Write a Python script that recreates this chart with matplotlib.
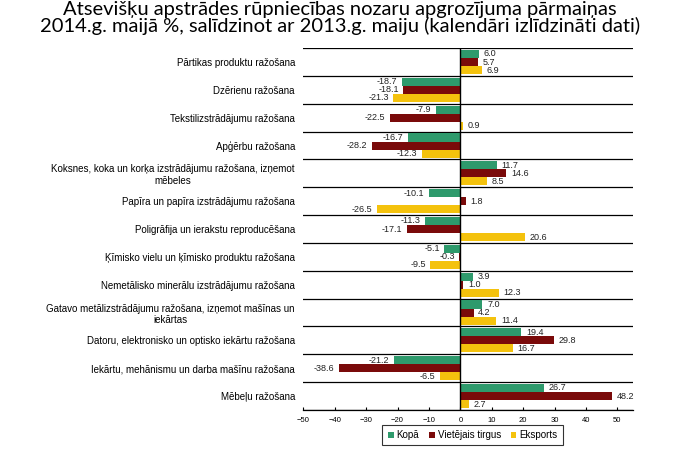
import numpy as np
import matplotlib
matplotlib.use("Agg")
import matplotlib.pyplot as plt

plt.rcParams['font.family'] = ['Liberation Sans', 'DejaVu Sans']

# Categories (top to bottom)
categories = [
    "Pārtikas produktu ražošana",
    "Dzērienu ražošana",
    "Tekstilizstrādājumu ražošana",
    "Apģērbu ražošana",
    "Koksnes, koka un korķa izstrādājumu ražošana, izņemot\nmēbeles",
    "Papīra un papīra izstrādājumu ražošana",
    "Poligrāfija un ierakstu reproducēšana",
    "Ķīmisko vielu un ķīmisko produktu ražošana",
    "Nemetālisko minerālu izstrādājumu ražošana",
    "Gatavo metālizstrādājumu ražošana, izņemot mašīnas un\niekārtas",
    "Datoru, elektronisko un optisko iekārtu ražošana",
    "Iekārtu, mehānismu un darba mašīnu ražošana",
    "Mēbeļu ražošana",
]
kopa = [6.0, -18.7, -7.9, -16.7, 11.7, -10.1, -11.3, -5.1, 3.9, 7.0, 19.4, -21.2, 26.7]
vietejais = [5.7, -18.1, -22.5, -28.2, 14.6, 1.8, -17.1, -0.3, 1.0, 4.2, 29.8, -38.6, 48.2]
eksports = [6.9, -21.3, 0.9, -12.3, 8.5, -26.5, 20.6, -9.5, 12.3, 11.4, 16.7, -6.5, 2.7]

series = [("Kopā", kopa, "#2e9a6c"),
          ("Vietējais tirgus", vietejais, "#7a0a0a"),
          ("Eksports", eksports, "#f4c20d")]

fig = plt.figure(figsize=(6.8, 4.5), dpi=100)
ax = fig.add_axes([0.446, 0.089, 0.485, 0.804])

y = np.arange(len(categories))
h = 0.29
for k, (name, vals, col) in enumerate(series):
    pos = y + (k - 1) * h
    ax.barh(pos, vals, height=h, color=col, label=name, zorder=2)
    for p, v in zip(pos, vals):
        off = 1.5 if v >= 0 else -1.5
        ax.text(v + off, p, f"{v:.1f}", ha='left' if v >= 0 else 'right',
                va='center', fontsize=6.5, color='#222222', zorder=3)

ax.set_ylim(len(categories) - 0.5, -0.5)
ax.set_xlim(-50, 55)
ax.set_xticks(np.arange(-50, 51, 10))
ax.tick_params(axis='x', labelsize=5.5, length=2, direction='in', pad=5)
ax.set_yticks(y)
ax.set_yticklabels(categories, fontsize=7, ha='right', multialignment='center')
ax.tick_params(axis='y', length=0, pad=6)

for b in np.arange(-0.5, len(categories), 1):
    ax.axhline(b, color='black', lw=0.9, zorder=1)
ax.axvline(0, color='black', lw=1, zorder=3)
for s in ['top', 'right', 'left']:
    ax.spines[s].set_visible(False)
ax.spines['bottom'].set_linewidth(0.9)

fig.text(0.5, 0.998,
         "Atsevišķu apstrādes rūpniecības nozaru apgrozījuma pārmaiņas\n"
         "2014.g. maijā %, salīdzinot ar 2013.g. maiju (kalendāri izlīdzināti dati)",
         fontsize=14.5, ha='center', va='top', linespacing=0.92,
         family=['Lato', 'DejaVu Sans'])

leg = fig.legend(loc='center', bbox_to_anchor=(0.695, 0.033), ncol=3,
                 fontsize=7, frameon=True, fancybox=False, edgecolor='black',
                 handlelength=0.6, handleheight=0.6, handletextpad=0.3,
                 columnspacing=1.0, borderpad=0.55)
leg.get_frame().set_linewidth(0.8)

fig.savefig("out.png", dpi=100)
